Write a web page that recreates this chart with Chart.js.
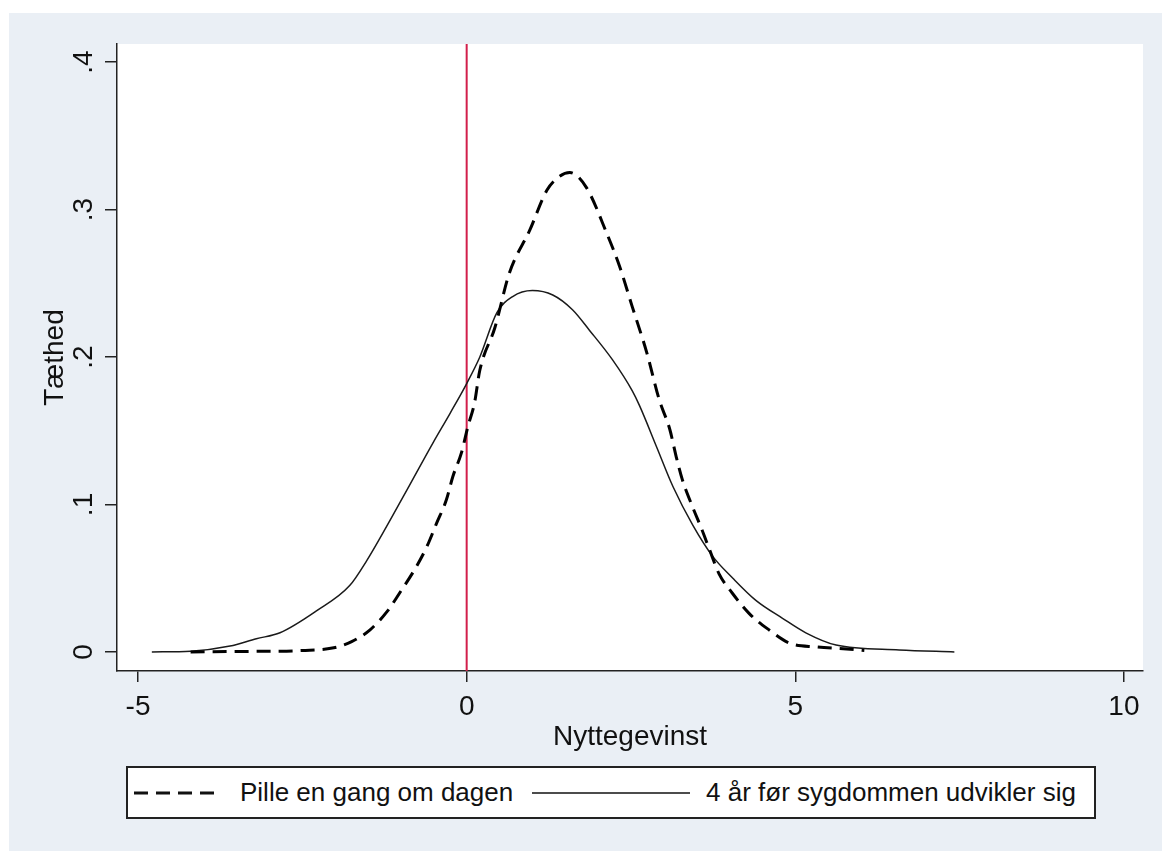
<!DOCTYPE html>
<html>
<head>
<meta charset="utf-8">
<script src="https://cdn.jsdelivr.net/npm/chart.js@4.4.0/dist/chart.umd.min.js"></script>
<style>
  html, body { margin: 0; padding: 0; background: #fff; }
  #frame { position: absolute; left: 9px; top: 13px; width: 1153px; height: 838px; background: #eaeff5; }
  #chart { position: absolute; left: 0; top: 0; }
  #legend {
    position: absolute; left: 117px; top: 753px; width: 966px; height: 49px;
    border: 2px solid #222; background: #fff;
    font: 26px "Liberation Sans", Arial, sans-serif; color: #111;
  }
  .item { position: absolute; top: 0; height: 49px; display: flex; align-items: center; white-space: nowrap; }
</style>
</head>
<body>
<div id="frame">
  <canvas id="chart" width="1153" height="838"></canvas>
  <div id="legend"></div>
</div>
<script>
// x-værdier (nyttegevinst) og tæthed
const pilleX = [-4.2, -3.6, -3.0, -2.5, -2.0, -1.75, -1.47, -1.2, -1.02, -0.79, -0.61, -0.46, -0.31, -0.21, -0.08, 0.02, 0.12, 0.2, 0.43, 0.65, 0.96, 1.22, 1.4, 1.57, 1.82, 2.13, 2.33, 2.52, 2.74, 2.93, 3.09, 3.19, 3.28, 3.44, 3.57, 3.69, 3.84, 4.04, 4.3, 4.6, 4.91, 5.32, 5.78, 6.05];
const pilleY = [0, 0.0003, 0.0005, 0.001, 0.003, 0.007, 0.015, 0.028, 0.040, 0.056, 0.071, 0.087, 0.103, 0.119, 0.135, 0.153, 0.169, 0.191, 0.22, 0.257, 0.286, 0.313, 0.322, 0.325, 0.315, 0.284, 0.261, 0.234, 0.203, 0.171, 0.151, 0.132, 0.117, 0.098, 0.084, 0.070, 0.053, 0.040, 0.026, 0.015, 0.006, 0.0034, 0.002, 0.001];

const aarX = [-4.79, -4.2, -3.6, -3.2, -2.84, -2.28, -1.78, -1.52, -1.22, -0.87, -0.51, -0.25, 0, 0.2, 0.46, 0.7, 1.0, 1.31, 1.61, 1.87, 2.22, 2.52, 2.63, 2.89, 3.14, 3.44, 3.74, 4.05, 4.4, 4.8, 5.16, 5.62, 6.58, 7.42];
const aarY = [0, 0.0005, 0.004, 0.009, 0.013, 0.028, 0.045, 0.062, 0.085, 0.113, 0.142, 0.162, 0.182, 0.2, 0.23, 0.241, 0.245, 0.242, 0.232, 0.218, 0.198, 0.177, 0.167, 0.139, 0.112, 0.086, 0.065, 0.05, 0.035, 0.023, 0.013, 0.0047, 0.0014, 0];

const seriesLabels = ['Pille en gang om dagen', '4 år før sygdommen udvikler sig'];
const xTicks = [-5, 0, 5, 10];
const yTicks = [0, 0.1, 0.2, 0.3, 0.4];
const xRange = [-5.32, 10.29];
const yRange = [-0.0129, 0.4122];
const refLineX = 0;

const toPoints = (xs, ys) => xs.map((x, i) => ({ x: x, y: ys[i] }));

const plotBackground = {
    id: 'plotBackground',
    beforeDraw(chart) {
        const { ctx, chartArea } = chart;
        ctx.save();
        ctx.fillStyle = '#fff';
        ctx.fillRect(chartArea.left, chartArea.top, chartArea.right - chartArea.left, chartArea.bottom - chartArea.top);
        ctx.restore();
    }
};

const axisFont = { family: '"Liberation Sans", Arial, sans-serif', size: 28 };

new Chart(document.getElementById('chart'), {
    type: 'line',
    data: {
        datasets: [
            {
                label: seriesLabels[0],
                data: toPoints(pilleX, pilleY),
                borderColor: '#000',
                borderWidth: 3,
                borderDash: [14, 8],
                pointRadius: 0,
                cubicInterpolationMode: 'monotone'
            },
            {
                label: seriesLabels[1],
                data: toPoints(aarX, aarY),
                borderColor: '#1a1a1a',
                borderWidth: 1.5,
                pointRadius: 0,
                cubicInterpolationMode: 'monotone'
            },
            {
                label: 'ref',
                data: [{ x: refLineX, y: yRange[0] }, { x: refLineX, y: yRange[1] }],
                borderColor: '#d21f4b',
                borderWidth: 2,
                pointRadius: 0
            }
        ]
    },
    options: {
        responsive: false,
        animation: false,
        layout: { padding: { left: 0, right: 19, top: 31, bottom: 90 } },
        plugins: {
            legend: { display: false },
            tooltip: { enabled: false }
        },
        scales: {
            x: {
                type: 'linear',
                min: xRange[0],
                max: xRange[1],
                afterBuildTicks: axis => { axis.ticks = xTicks.map(v => ({ value: v })); },
                afterFit: scale => { scale.height = 90; },
                border: { display: true, color: '#222', width: 1.5 },
                grid: { display: true, drawOnChartArea: false, drawTicks: true, tickLength: 11, color: '#222', lineWidth: 1.5 },
                ticks: { font: axisFont, color: '#111', padding: 8, maxRotation: 0, callback: v => String(v) },
                title: { display: true, text: 'Nyttegevinst', font: axisFont, color: '#111', padding: { top: 0, bottom: 7 } }
            },
            y: {
                type: 'linear',
                min: yRange[0],
                max: yRange[1],
                afterBuildTicks: axis => { axis.ticks = yTicks.map(v => ({ value: v })); },
                afterFit: scale => { scale.width = 108; },
                border: { display: true, color: '#222', width: 1.5 },
                grid: { display: true, drawOnChartArea: false, drawTicks: true, tickLength: 12, color: '#222', lineWidth: 1.5 },
                ticks: {
                    font: axisFont, color: '#111', padding: 9, minRotation: 90, maxRotation: 90, crossAlign: 'center',
                    callback: v => v === 0 ? '0' : String(v).replace(/^0/, '')
                },
                title: { display: true, text: 'Tæthed', font: axisFont, color: '#111', padding: { top: 29, bottom: 0 } }
            }
        }
    },
    plugins: [plotBackground]
});

// legende
const legend = document.getElementById('legend');
const legendItems = [
    { label: seriesLabels[0], dash: '14 8', width: 3, sample: [6, 83], text: 112 },
    { label: seriesLabels[1], dash: '', width: 1.5, sample: [404, 158], text: 578 }
];
legendItems.forEach(item => {
    const s = document.createElement('div');
    s.className = 'item';
    s.style.left = item.sample[0] + 'px';
    s.innerHTML = `<svg width="${item.sample[1]}" height="10"><line x1="0" y1="5" x2="${item.sample[1]}" y2="5" stroke="#111" stroke-width="${item.width}" ${item.dash ? `stroke-dasharray="${item.dash}"` : ''}/></svg>`;
    legend.appendChild(s);
    const t = document.createElement('div');
    t.className = 'item';
    t.style.left = item.text + 'px';
    t.textContent = item.label;
    legend.appendChild(t);
});
</script>
</body>
</html>
